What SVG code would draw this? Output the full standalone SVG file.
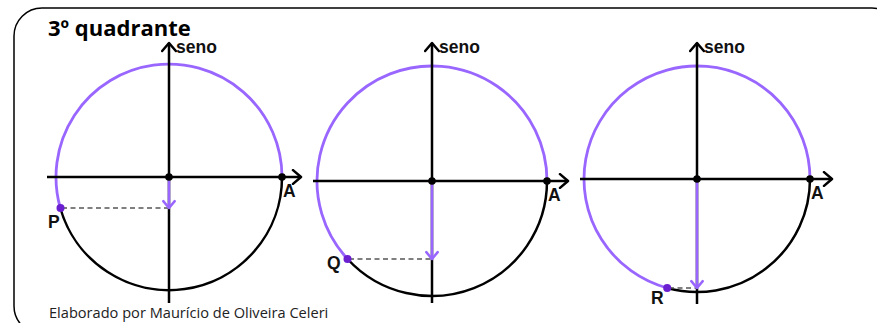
<svg xmlns="http://www.w3.org/2000/svg" width="877" height="323" viewBox="0 0 877 323">
  <defs>
    <marker id="arrK" markerUnits="userSpaceOnUse" markerWidth="14" markerHeight="16" viewBox="-9 -7 11 14" refX="0" refY="0" orient="auto">
      <path d="M-7,-6 L0,0 L-7,6" fill="none" stroke="#000" stroke-width="2.2" stroke-linecap="round" stroke-linejoin="round"/>
    </marker>
    <marker id="arrP" markerUnits="userSpaceOnUse" markerWidth="14" markerHeight="16" viewBox="-9 -7 11 14" refX="0" refY="0" orient="auto">
      <path d="M-6,-5 L0,0 L-6,5" fill="none" stroke="#9966ff" stroke-width="2.2" stroke-linecap="round" stroke-linejoin="round"/>
    </marker>
  </defs>
  <style>
    .frame { fill: #fff; stroke: #000; stroke-width: 1.5; }
    .axis { stroke: #000; stroke-width: 2.5; fill: none; }
    .arcK { stroke: #000; stroke-width: 2.5; fill: none; }
    .arcP { stroke: #9966ff; stroke-width: 2.8; fill: none; }
    .vec { stroke: #9966ff; stroke-width: 2.5; fill: none; }
    .dash { stroke: #555; stroke-width: 1.3; stroke-dasharray: 5 3.5; fill: none; }
    .dot { fill: #000; }
    .pt { fill: #6a1fd0; }
    .lbl { font-family: "Liberation Sans", Arial, sans-serif; font-weight: bold; font-size: 17.5px; fill: #111; }
    .seno { font-family: "Liberation Sans", Arial, sans-serif; font-weight: bold; font-size: 17.5px; fill: #111; }
    .title { font-family: "Open Sans", "Liberation Sans", sans-serif; font-weight: bold; font-size: 22px; fill: #000; }
    .cap { font-family: "Open Sans", "Liberation Sans", sans-serif; font-size: 14.6px; fill: #222; }
  </style>
  <rect class="frame" x="14" y="8" width="886" height="326" rx="28"/>
  <text class="title" x="48" y="36">3º quadrante</text>
  <text class="cap" x="49" y="318">Elaborado por Maurício de Oliveira Celeri</text>

  <g id="circle1">
    <path class="arcP" d="M282,177 A113,113 0 1 0 60.3,208"/>
    <path class="arcK" d="M60.3,208 A113,113 0 0 0 282,177"/>
  </g>
  <g id="circle2">
    <path class="arcP" d="M547,181 A115,115 0 1 0 347.5,259"/>
    <path class="arcK" d="M347.5,259 A115,115 0 0 0 547,181"/>
  </g>
  <g id="circle3">
    <path class="arcP" d="M810,179 A113,113 0 1 0 667.2,288"/>
    <path class="arcK" d="M667.2,288 A113,113 0 0 0 810,179"/>
  </g>

  <g id="connectors">
    <line class="axis" x1="47" y1="177" x2="301" y2="177" marker-end="url(#arrK)"/>
    <line class="axis" x1="169" y1="303" x2="169" y2="43" marker-end="url(#arrK)"/>
    <line class="dash" x1="62" y1="208" x2="169" y2="208"/>
    <line class="vec" x1="169" y1="177" x2="169" y2="208" marker-end="url(#arrP)"/>

    <line class="axis" x1="313" y1="181" x2="568" y2="181" marker-end="url(#arrK)"/>
    <line class="axis" x1="432" y1="303" x2="432" y2="43" marker-end="url(#arrK)"/>
    <line class="dash" x1="349" y1="259" x2="432" y2="259"/>
    <line class="vec" x1="432" y1="181" x2="432" y2="259" marker-end="url(#arrP)"/>

    <line class="axis" x1="580" y1="179" x2="832" y2="179" marker-end="url(#arrK)"/>
    <line class="axis" x1="697" y1="304" x2="697" y2="43" marker-end="url(#arrK)"/>
    <line class="dash" x1="669" y1="288" x2="697" y2="288"/>
    <line class="vec" x1="697" y1="179" x2="697" y2="288" marker-end="url(#arrP)"/>
  </g>

  <g id="labels1">
    <circle class="dot" cx="169" cy="177" r="3.8"/>
    <circle class="dot" cx="282" cy="177" r="3.8"/>
    <circle class="pt" cx="60.5" cy="208" r="4"/>
    <text class="seno" x="176" y="53">seno</text>
    <text class="lbl" x="283" y="197">A</text>
    <text class="lbl" x="48" y="228">P</text>
  </g>
  <g id="labels2">
    <circle class="dot" cx="432" cy="181" r="3.8"/>
    <circle class="dot" cx="547" cy="181" r="3.8"/>
    <circle class="pt" cx="347.5" cy="259" r="4"/>
    <text class="seno" x="439" y="53">seno</text>
    <text class="lbl" x="548" y="201">A</text>
    <text class="lbl" x="327" y="269">Q</text>
  </g>
  <g id="labels3">
    <circle class="dot" cx="697" cy="179" r="3.8"/>
    <circle class="dot" cx="810" cy="179" r="3.8"/>
    <circle class="pt" cx="667.2" cy="288" r="4"/>
    <text class="seno" x="704" y="53">seno</text>
    <text class="lbl" x="811" y="199">A</text>
    <text class="lbl" x="651" y="304">R</text>
  </g>
</svg>
